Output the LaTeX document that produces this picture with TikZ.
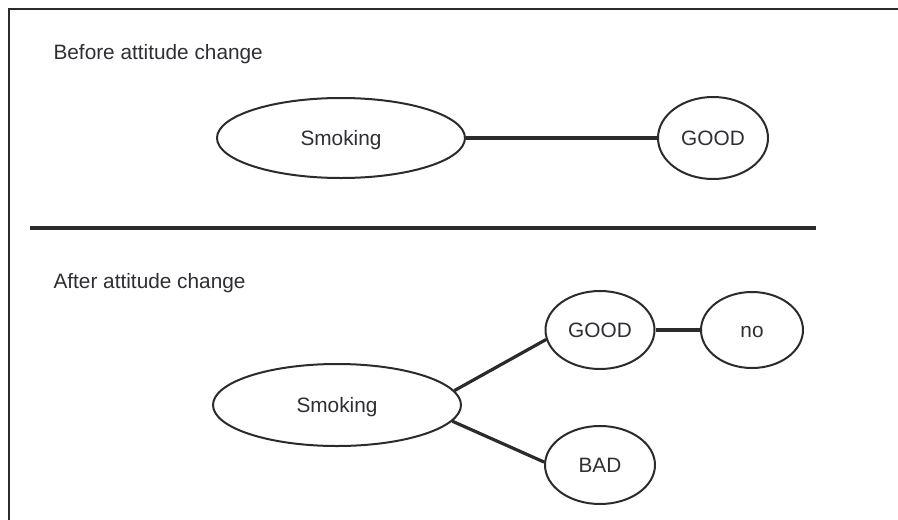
\documentclass[tikz,border=0pt]{standalone}
\usepackage{fontspec}
\setmainfont{Liberation Sans}
\usepackage{xcolor}
\definecolor{ink}{HTML}{2B2B2E}
\definecolor{text-gray}{HTML}{2E2E33}
\usetikzlibrary{shapes.geometric}

\begin{document}
\begin{tikzpicture}[x=1pt, y=-1pt,
        every node/.style={font=\fontsize{20.8}{25}\selectfont, text=text-gray},
        bubble/.style={draw=ink, ellipse, line width=2pt, inner sep=0pt,
            text height=15pt, text depth=0pt},
        link/.style={draw=ink, line width=3.2pt}]
      \useasboundingbox (0,0) rectangle (898,520);
      % frame, only top and left edges fall inside the page
      \draw[ink, line width=2.4pt] (9,520) -- (9,9) -- (898,9);
      % before
      \node[anchor=base west] (T1) at (50,59) {Before attitude change};
      \node[bubble, minimum width=248pt, minimum height=80pt] (SMK1) at (341,138) {Smoking};
      \node[bubble, minimum width=110pt, minimum height=82pt] (GOOD1) at (713,138) {GOOD};
      \draw[link] (SMK1.east) -- (GOOD1.west);
      % divider
      \coordinate (DL) at (30,228);
      \coordinate (DR) at (816,228);
      \draw[ink, line width=4.5pt] (DL) -- (DR);
      % after
      \node[anchor=base west] (T2) at (50,288) {After attitude change};
      \node[bubble, minimum width=248pt, minimum height=82pt] (SMK2) at (337,405) {Smoking};
      \node[bubble, minimum width=109pt, minimum height=78pt] (GOOD2) at (600,330) {GOOD};
      \node[bubble, minimum width=102pt, minimum height=76pt] (NO) at (752,330) {no};
      \node[bubble, minimum width=110pt, minimum height=78pt] (BAD) at (600,465) {BAD};
      \draw[link] (SMK2.7) -- (GOOD2.190);
      \draw[link] (SMK2.352) -- (BAD.177);
      \draw[link] (GOOD2.east) -- (NO.west);
    \end{tikzpicture}
\end{document}
